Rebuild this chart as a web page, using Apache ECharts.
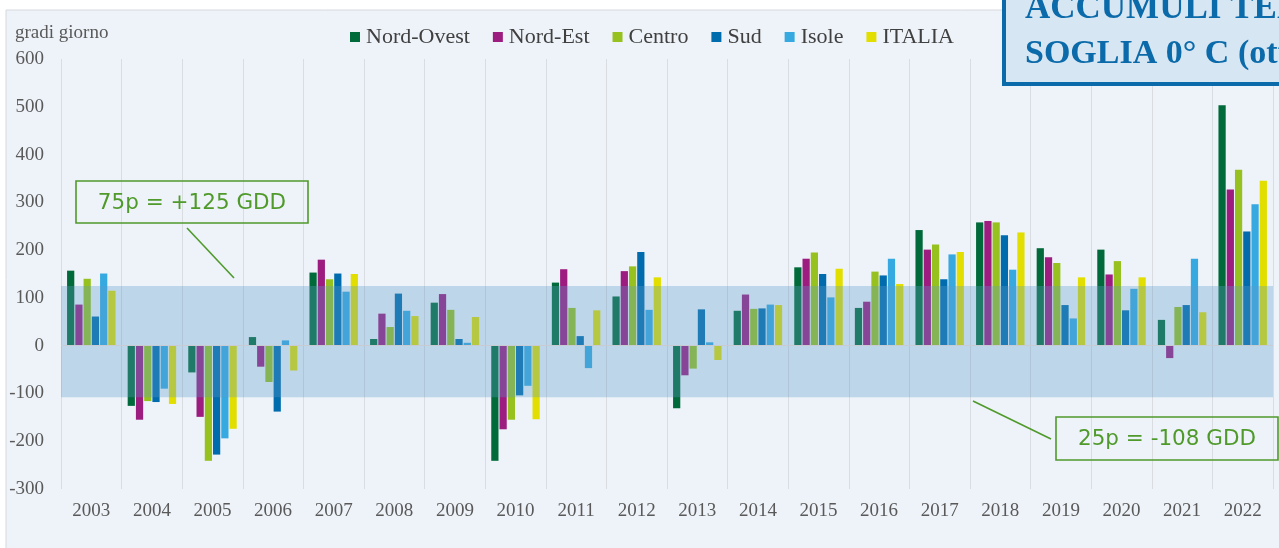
<!DOCTYPE html>
<html>
<head>
<meta charset="utf-8">
<title>Gradi giorno</title>
<script src="https://cdn.jsdelivr.net/npm/echarts@6/dist/echarts.min.js"></script>
<style>
  html, body { margin: 0; padding: 0; background: #ffffff; }
  #chart { width: 1279px; height: 548px; }
</style>
</head>
<body>
<div id="chart"></div>
<script>
// anni
const years = ['2003', '2004', '2005', '2006', '2007', '2008', '2009', '2010', '2011', '2012',
               '2013', '2014', '2015', '2016', '2017', '2018', '2019', '2020', '2021', '2022'];

// scarti in gradi giorno per area
const nordOvest = [157, -126, -56, 18, 153, 14, 90, -241, 132, 103, -131, 73, 164, 79, 242, 258, 204, 201, 54, 503];
const nordEst   = [86, -155, -149, -44, 180, 67, 108, -175, 160, 156, -62, 107, 182, 92, 201, 261, 185, 149, -26, 327];
const centro    = [140, -116, -241, -76, 139, 39, 75, -155, 79, 166, -48, 77, 195, 155, 212, 258, 173, 177, 81, 368];
const sud       = [61, -118, -228, -138, 151, 109, 14, -104, 20, 196, 76, 78, 150, 147, 139, 231, 85, 74, 85, 239];
const isole     = [151, -90, -194, 11, 113, 73, 6, -84, -47, 75, 7, 86, 101, 182, 191, 159, 57, 119, 182, 296];
const italia    = [115, -122, -174, -52, 150, 62, 60, -154, 74, 143, -30, 85, 161, 129, 196, 237, 143, 143, 70, 345];

// percentili della fascia
const p75 = 125;
const p25 = -108;

const seriesNames = ['Nord-Ovest', 'Nord-Est', 'Centro', 'Sud', 'Isole', 'ITALIA'];
const seriesData = [nordOvest, nordEst, centro, sud, isole, italia];
const colors = ['#006a3a', '#9c1c80', '#97c11f', '#006cad', '#36a9e1', '#e2df00'];

const serif = '"Liberation Serif", "Times New Roman", serif';
const sans = '"DejaVu Sans", Verdana, sans-serif';
const green = '#4f9a2b';

const chart = echarts.init(document.getElementById('chart'));

const bars = seriesNames.map((name, i) => ({
  name: name,
  type: 'bar',
  data: seriesData[i],
  barGap: '14%',
  barCategoryGap: '20%',
  itemStyle: { color: colors[i] },
  z: 2
}));

// fascia 25p-75p sopra le barre, linea dello zero
bars.push({
  name: 'fascia',
  type: 'line',
  data: [],
  z: 5,
  silent: true,
  markArea: {
    silent: true,
    z: 5,
    itemStyle: { color: 'rgba(95,155,200,0.33)' },
    data: [[{ yAxis: p75 }, { yAxis: p25 }]]
  },
  markLine: {
    silent: true,
    z: 5,
    symbol: 'none',
    label: { show: false },
    lineStyle: { color: '#c8ccd2', width: 1, type: 'solid' },
    data: [{ yAxis: 0 }]
  }
});

const option = {
  backgroundColor: '#ffffff',
  animation: false,
  color: colors,
  grid: { left: 61, right: 6, top: 59, bottom: 59 },
  legend: {
    data: seriesNames,
    left: 350,
    top: 26,
    padding: 0,
    icon: 'rect',
    itemWidth: 10,
    itemHeight: 10,
    itemGap: 23,
    textStyle: { fontFamily: serif, fontSize: 22, color: '#404040', padding: [0, 0, 0, 1] }
  },
  xAxis: {
    type: 'category',
    data: years,
    axisLine: { show: false },
    axisTick: { show: false },
    axisLabel: { fontFamily: serif, fontSize: 19, color: '#595959', margin: 13 },
    splitLine: { show: true, lineStyle: { color: '#d9dce0', width: 1 } }
  },
  yAxis: {
    type: 'value',
    min: -300,
    max: 600,
    interval: 100,
    axisLine: { show: false },
    axisTick: { show: false },
    splitLine: { show: false },
    axisLabel: { fontFamily: serif, fontSize: 19, color: '#595959', margin: 17 }
  },
  graphic: [
    // pannello di fondo
    { type: 'rect', z: -10, shape: { x: 6, y: 10, width: 1290, height: 560 },
      style: { fill: '#eef3f9', stroke: '#d6d9de', lineWidth: 1 } },
    { type: 'text', z: 10, left: 15, top: 24,
      style: { text: 'gradi giorno', font: '19px ' + serif, fill: '#595959' } },
    // riquadro titolo (tagliato)
    { type: 'rect', z: 10, shape: { x: 1004, y: -20, width: 300, height: 104 },
      style: { fill: '#d6e6f3', stroke: '#0b6aa9', lineWidth: 4 } },
    { type: 'text', z: 11, x: 1025, y: 26,
      style: { text: 'ACCUMULI TERMICI', font: 'bold 35px ' + serif, fill: '#0b6aa9', textVerticalAlign: 'bottom' } },
    { type: 'text', z: 11, x: 1025, y: 71,
      style: { text: 'SOGLIA 0° C (ottobre-marzo)', font: 'bold 34px ' + serif, fill: '#0b6aa9', textVerticalAlign: 'bottom' } },
    // etichetta 75p
    { type: 'rect', z: 10, shape: { x: 76, y: 181, width: 232, height: 42 },
      style: { fill: 'rgba(0,0,0,0)', stroke: green, lineWidth: 1.6 } },
    { type: 'text', z: 10, x: 192, y: 203,
      style: { text: '75p = +125 GDD', font: '21.5px ' + sans, fill: green, textAlign: 'center', textVerticalAlign: 'middle' } },
    { type: 'line', z: 10, shape: { x1: 187, y1: 228, x2: 234, y2: 278 },
      style: { stroke: green, lineWidth: 1.6 } },
    // etichetta 25p
    { type: 'rect', z: 10, shape: { x: 1056, y: 417, width: 222, height: 43 },
      style: { fill: 'rgba(0,0,0,0)', stroke: green, lineWidth: 1.6 } },
    { type: 'text', z: 10, x: 1167, y: 439.5,
      style: { text: '25p = -108 GDD', font: '21.5px ' + sans, fill: green, textAlign: 'center', textVerticalAlign: 'middle' } },
    { type: 'line', z: 10, shape: { x1: 973, y1: 401, x2: 1051, y2: 439 },
      style: { stroke: green, lineWidth: 1.6 } }
  ],
  series: bars
};

chart.setOption(option);
</script>
</body>
</html>
